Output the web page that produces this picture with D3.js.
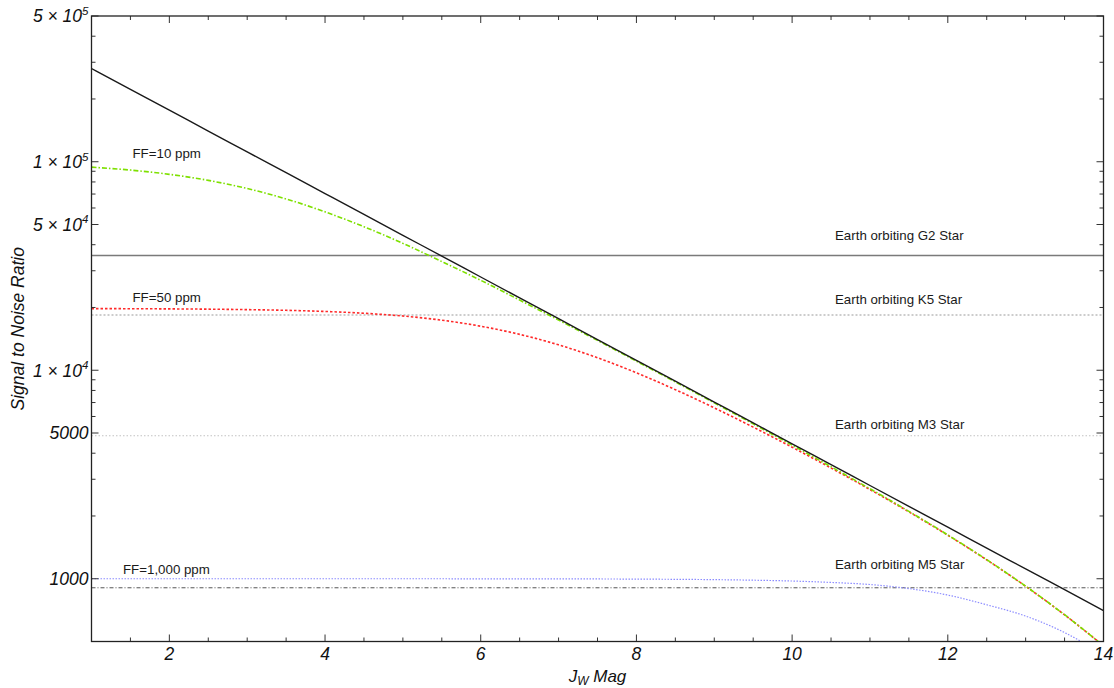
<!DOCTYPE html>
<html><head><meta charset="utf-8">
<script src="https://cdn.jsdelivr.net/npm/d3@7"></script>
<style>body{margin:0;background:#fff}svg{display:block}</style>
</head><body>
<script>
// ---------- data ----------
const magnitudes = [1,1.5,2,2.5,3,3.5,4,4.5,5,5.5,6,6.5,7,7.5,8,8.5,9,9.5,10,10.5,11,11.5,12,12.5,13,13.5,14];
const snrPhotonLimit = [280000,222400,176700,140300,111500,88560,70350,55880,44380,35260,28000,22240,17670,14030,11150,8856,7035,5588,4438,3526,2800,2224,1767,1403,1115,886,704];
const snrFF10 = [94200,91200,87000,81400,74400,66300,57500,48800,40600,33200,27000,21700,17400,13900,11050,8790,6975,5530,4370,3444,2701,2104,1622,1234,921,672,477];
const snrFF50 = [19750,19730,19690,19630,19530,19380,19140,18760,18200,17380,16260,14860,13240,11480,9720,8070,6600,5335,4273,3396,2678,2093,1617,1231,920,671,477];
const snrFF1000 = [1000,1000,1000,1000,1000,1000,1000,999.9,999.8,999.6,999.4,999,998.4,997.5,996,993.6,990,984,975,960,938,897,835,750,662,552,430];
const ffLabels = ["FF=10 ppm","FF=50 ppm","FF=1,000 ppm"];
const referenceLevels = [35500,18400,4850,905];
const referenceNames = ["Earth orbiting G2 Star","Earth orbiting K5 Star","Earth orbiting M3 Star","Earth orbiting M5 Star"];
const xTickLabels = [2,4,6,8,10,12,14];
const xMinorTicks = d3.range(1,14.01,0.5);
const yTickValues = [1000,5000,10000,50000,100000,500000];
const yTickLabels = ["1000","5000","1 × 10^4","5 × 10^4","1 × 10^5","5 × 10^5"];
const yMinorTicks = [2000,3000,4000,6000,7000,8000,9000,20000,30000,40000,60000,70000,80000,90000,200000,300000,400000];
const xTitle = ["J","W"," Mag"];
const yTitle = "Signal to Noise Ratio";

// ---------- layout / style ----------
const W = 1114, H = 688;
const L = 91.5, R = 1103.5, T = 16, B = 641.5;
const FONT = "'Liberation Sans', Arial, sans-serif";

const svg = d3.select("body").append("svg").attr("width", W).attr("height", H);
const x = d3.scaleLinear().domain([1,14]).range([L,R]);
const y = d3.scaleLog().domain([500,500000]).range([B,T]);

svg.append("defs").append("clipPath").attr("id","clip")
  .append("rect").attr("x",L).attr("y",T).attr("width",R-L).attr("height",B-T);

const plot = svg.append("g").attr("clip-path","url(#clip)");

// reference horizontal lines
const refStyles = [
  {stroke:"#7a7a7a", dash:null, w:1.3},
  {stroke:"#9a9a9a", dash:"2,2", w:1.2},
  {stroke:"#c2c2c2", dash:"1.5,2", w:1},
  {stroke:"#555555", dash:"4,2,1,2", w:1}
];
referenceLevels.forEach((v,i)=>{
  plot.append("line")
    .attr("x1",x(1)).attr("x2",x(14)).attr("y1",y(v)).attr("y2",y(v))
    .attr("stroke",refStyles[i].stroke).attr("stroke-width",refStyles[i].w)
    .attr("stroke-dasharray",refStyles[i].dash);
});

const line = d3.line().x(d=>x(d[0])).y(d=>y(d[1])).curve(d3.curveMonotoneX);
const series = [
  {vals:snrFF1000, stroke:"#8c8cff", dash:"1.5,1.5", w:1.2},
  {vals:snrFF50, stroke:"#ff2a2a", dash:"2.5,2", w:1.6},
  {vals:snrFF10, stroke:"#7ee000", dash:"5,2,1.5,2", w:1.6},
  {vals:snrPhotonLimit, stroke:"#1a1a1a", dash:null, w:1.4}
];
series.forEach(s=>{
  plot.append("path")
    .datum(magnitudes.map((m,i)=>[m,s.vals[i]]))
    .attr("d",line).attr("fill","none")
    .attr("stroke",s.stroke).attr("stroke-width",s.w)
    .attr("stroke-dasharray",s.dash);
});

// ---------- frame & ticks ----------
const axG = svg.append("g").attr("stroke","#333").attr("stroke-width",1);
const major = 7, minor = 4;
function hTick(v,len){
  axG.append("line").attr("x1",L).attr("x2",L+len).attr("y1",y(v)).attr("y2",y(v));
  axG.append("line").attr("x1",R).attr("x2",R-len).attr("y1",y(v)).attr("y2",y(v));
}
function vTick(v,len){
  axG.append("line").attr("y1",B).attr("y2",B-len).attr("x1",x(v)).attr("x2",x(v));
  axG.append("line").attr("y1",T).attr("y2",T+len).attr("x1",x(v)).attr("x2",x(v));
}
yTickValues.forEach(v=>hTick(v,major));
yMinorTicks.forEach(v=>hTick(v,minor));
xMinorTicks.forEach(v=>vTick(v, xTickLabels.includes(v)?major:minor));
svg.append("rect").attr("x",L).attr("y",T).attr("width",R-L).attr("height",B-T)
  .attr("fill","none").attr("stroke","#222").attr("stroke-width",1.3);

// y tick labels
yTickValues.forEach((v,i)=>{
  const parts = yTickLabels[i].split("^");
  const t = svg.append("text").attr("x",88.5).attr("y",y(v)+6.3)
    .attr("text-anchor","end").attr("font-family",FONT).attr("font-style","italic")
    .attr("font-size",17.5).attr("fill","#111");
  t.append("tspan").text(parts[0]);
  if(parts[1]) t.append("tspan").attr("dy",-7.5).attr("font-size",11.5).text(parts[1]);
});
// x tick labels
xTickLabels.forEach(v=>{
  svg.append("text").attr("x",x(v)).attr("y",659.5).attr("text-anchor","middle")
    .attr("font-family",FONT).attr("font-style","italic").attr("font-size",17.5)
    .attr("fill","#111").text(v);
});

// axis titles
const xt = svg.append("text").attr("x",(L+R)/2).attr("y",681.5).attr("text-anchor","middle")
  .attr("font-family",FONT).attr("font-style","italic").attr("font-size",17).attr("fill","#111");
xt.append("tspan").text(xTitle[0]);
xt.append("tspan").attr("dy",3.5).attr("font-size",12).text(xTitle[1]);
xt.append("tspan").attr("dy",-3.5).text(xTitle[2]);

svg.append("text").attr("transform",`translate(24,${(T+B)/2}) rotate(-90)`)
  .attr("text-anchor","middle").attr("font-family",FONT).attr("font-style","italic")
  .attr("font-size",17.5).attr("fill","#111").text(yTitle);

// annotations
const ann = svg.append("g").attr("font-family",FONT).attr("font-size",13.3).attr("fill","#1a1a1a");
const ffStart = [snrFF10[0], snrFF50[0], snrFF1000[0]];
const ffOffsets = [-9.4,-7,-5];
const ffX = [132.5,132.5,123];
ffLabels.forEach((s,i)=>{
  ann.append("text").attr("x",ffX[i]).attr("y",y(ffStart[i])+ffOffsets[i]).text(s);
});
const refOffsets = [-16,-11.5,-7,-19];
referenceNames.forEach((s,i)=>{
  ann.append("text").attr("x",835).attr("y",y(referenceLevels[i])+refOffsets[i]).text(s);
});
</script>
</body></html>
